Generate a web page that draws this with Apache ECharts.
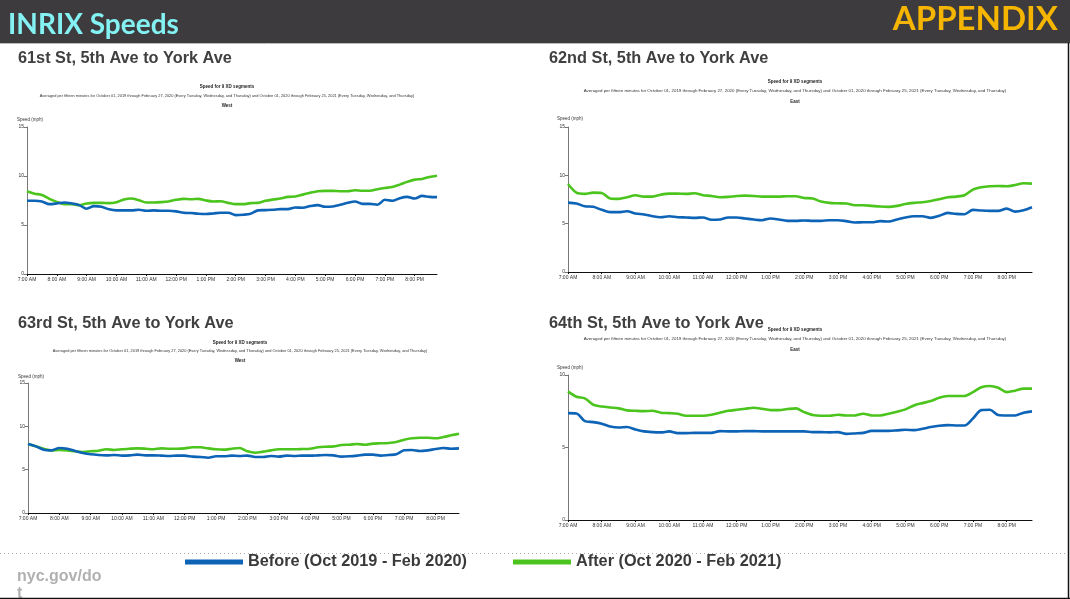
<!DOCTYPE html>
<html><head><meta charset="utf-8">
<script src="https://cdn.jsdelivr.net/npm/echarts@6.0.0/dist/echarts.min.js"></script>
<style>html,body{margin:0;padding:0;background:#fff;overflow:hidden}#c{width:1070px;height:599px}</style>
</head><body><div id="c"></div>
<script>
const times = ['7:00 AM','7:15 AM','7:30 AM','7:45 AM','8:00 AM','8:15 AM','8:30 AM','8:45 AM',
 '9:00 AM','9:15 AM','9:30 AM','9:45 AM','10:00 AM','10:15 AM','10:30 AM','10:45 AM',
 '11:00 AM','11:15 AM','11:30 AM','11:45 AM','12:00 PM','12:15 PM','12:30 PM','12:45 PM',
 '1:00 PM','1:15 PM','1:30 PM','1:45 PM','2:00 PM','2:15 PM','2:30 PM','2:45 PM',
 '3:00 PM','3:15 PM','3:30 PM','3:45 PM','4:00 PM','4:15 PM','4:30 PM','4:45 PM',
 '5:00 PM','5:15 PM','5:30 PM','5:45 PM','6:00 PM','6:15 PM','6:30 PM','6:45 PM',
 '7:00 PM','7:15 PM','7:30 PM','7:45 PM','8:00 PM','8:15 PM','8:30 PM','8:45 PM'];

const panelTitles = ['61st St, 5th Ave to York Ave','62nd St, 5th Ave to York Ave','63rd St, 5th Ave to York Ave','64th St, 5th Ave to York Ave'];
const directions = ['West','East','West','East'];
const yTicksMax = [15,15,15,10];
const seriesNames = ['Before (Oct 2019 - Feb 2020)','After (Oct 2020 - Feb 2021)'];
const chartHeading = 'Speed for 9 XD segments';
const chartSub = 'Averaged per fifteen minutes for October 01, 2019 through February 27, 2020 (Every Tuesday, Wednesday, and Thursday) and October 01, 2020 through February 25, 2021 (Every Tuesday, Wednesday, and Thursday)';

const before61 = [7.47,7.47,7.40,7.13,7.20,7.30,7.20,7.03,6.66,6.93,6.86,6.60,6.49,6.49,6.49,6.55,
 6.45,6.49,6.45,6.45,6.39,6.25,6.22,6.15,6.12,6.18,6.25,6.25,6.01,6.05,6.15,6.49,
 6.52,6.55,6.62,6.62,6.79,6.76,6.93,7.03,6.86,6.89,7.06,7.26,7.40,7.16,7.16,7.06,
 7.57,7.47,7.74,7.87,7.70,7.97,7.87,7.84];
const after61 = [8.45,8.20,8.07,7.67,7.36,7.13,7.13,7.03,7.20,7.26,7.26,7.23,7.33,7.60,7.70,7.53,
 7.30,7.30,7.33,7.40,7.57,7.67,7.63,7.67,7.50,7.40,7.43,7.26,7.13,7.13,7.23,7.26,
 7.47,7.60,7.70,7.87,7.90,8.10,8.28,8.45,8.48,8.48,8.45,8.45,8.55,8.50,8.50,8.65,
 8.78,8.88,9.12,9.40,9.63,9.70,9.90,10.03];

const before62 = [7.18,7.08,6.80,6.74,6.43,6.19,6.19,6.29,6.05,5.95,5.77,5.67,5.77,5.67,5.64,5.60,
 5.64,5.40,5.43,5.64,5.64,5.53,5.43,5.36,5.53,5.43,5.29,5.29,5.33,5.29,5.29,5.36,
 5.36,5.26,5.12,5.15,5.15,5.26,5.22,5.43,5.64,5.77,5.77,5.60,5.81,6.12,6.01,5.98,
 6.43,6.36,6.32,6.32,6.56,6.25,6.39,6.70];
const after62 = [9.10,8.21,8.08,8.21,8.18,7.60,7.56,7.73,7.94,7.80,7.80,8.00,8.11,8.11,8.08,8.14,
 7.94,7.87,7.73,7.77,7.87,7.90,7.87,7.80,7.80,7.80,7.84,7.84,7.66,7.60,7.29,7.15,
 7.11,7.08,6.91,6.91,6.84,6.77,6.74,6.84,7.04,7.15,7.22,7.35,7.53,7.73,7.80,7.94,
 8.52,8.76,8.87,8.90,8.87,9.00,9.18,9.14];

const before63 = [7.96,7.69,7.31,7.23,7.50,7.42,7.15,6.92,6.77,6.69,6.65,6.69,6.62,6.65,6.73,6.65,
 6.65,6.62,6.58,6.62,6.62,6.50,6.46,6.38,6.54,6.54,6.62,6.58,6.62,6.46,6.46,6.58,
 6.50,6.62,6.58,6.62,6.62,6.65,6.69,6.65,6.50,6.54,6.62,6.73,6.73,6.62,6.69,6.77,
 7.23,7.27,7.15,7.23,7.38,7.50,7.42,7.46];
const after63 = [8.00,7.69,7.42,7.23,7.27,7.23,7.12,7.04,7.12,7.19,7.35,7.27,7.35,7.42,7.46,7.42,
 7.35,7.46,7.42,7.42,7.46,7.58,7.58,7.46,7.35,7.31,7.42,7.50,7.12,6.96,7.08,7.23,
 7.35,7.35,7.35,7.38,7.42,7.58,7.65,7.69,7.85,7.88,7.96,7.88,8.00,8.04,8.08,8.19,
 8.46,8.62,8.69,8.69,8.62,8.77,8.96,9.15];

const before64 = [7.37,7.35,6.82,6.75,6.64,6.45,6.38,6.41,6.24,6.11,6.06,6.04,6.11,5.99,5.99,6.01,
 6.01,6.01,6.13,6.11,6.11,6.13,6.13,6.11,6.11,6.11,6.11,6.11,6.11,6.06,6.06,6.04,
 6.06,5.94,5.97,6.01,6.15,6.15,6.15,6.18,6.22,6.20,6.29,6.41,6.50,6.54,6.52,6.52,
 7.00,7.58,7.60,7.24,7.21,7.21,7.40,7.49];
const after64 = [8.87,8.50,8.39,7.95,7.83,7.76,7.70,7.56,7.53,7.51,7.53,7.40,7.37,7.33,7.19,7.19,
 7.19,7.26,7.40,7.53,7.60,7.67,7.74,7.67,7.58,7.58,7.65,7.70,7.44,7.24,7.19,7.19,
 7.26,7.21,7.21,7.33,7.21,7.21,7.33,7.47,7.63,7.90,8.06,8.20,8.43,8.55,8.55,8.55,
 8.82,9.15,9.24,9.12,8.82,8.92,9.06,9.06];

const beforeData = [before61, before62, before63, before64];
const afterData = [after61, after62, after63, after64];

// layout (pixels)
const grids = [
  {left:27, top:127, width:410, height:147},
  {left:568, top:127, width:464, height:145},
  {left:28, top:383, width:431, height:130},
  {left:568, top:375, width:464, height:145}
];
const panelTitlePos = [[18,58.5],[549,58.5],[18,323.5],[549,323.5]];
const headingY = [[227,87,96,106,120,17],[795,82,91,102,119,557],[240,343,351,361,377,18],[795,330,339,350,368,557]];

const BLUE = '#0d63b6', GREEN = '#4cc41e';
const FONT = '"Liberation Sans", Arial, sans-serif';

const xAxis = [], yAxis = [], series = [], graphic = [];
grids.forEach((g, i) => {
  xAxis.push({
    type:'category', gridIndex:i, data:times, boundaryGap:false,
    axisLine:{lineStyle:{color:'#111', width:1}},
    axisTick:{show:true, interval:3, length:2, lineStyle:{color:'#111'}},
    axisLabel:{interval:3, fontSize:5, color:'#333', margin:3, fontFamily:FONT}
  });
  yAxis.push({
    type:'value', gridIndex:i, min:0, max:yTicksMax[i], interval:5,
    splitLine:{show:false},
    axisLine:{show:true, lineStyle:{color:'#777', width:1}},
    axisTick:{show:true, length:3, lineStyle:{color:'#777'}},
    axisLabel:{fontSize:5, color:'#333', margin:3, fontFamily:FONT}
  });
  series.push({
    name:seriesNames[0], type:'line', xAxisIndex:i, yAxisIndex:i, data:beforeData[i],
    showSymbol:false, smooth:0.3, color:BLUE, lineStyle:{width:2.6, color:BLUE}, z:3
  });
  series.push({
    name:seriesNames[1], type:'line', xAxisIndex:i, yAxisIndex:i, data:afterData[i],
    showSymbol:false, smooth:0.3, color:GREEN, lineStyle:{width:2.6, color:GREEN}, z:2
  });
  const h = headingY[i];
  graphic.push({type:'text', x:panelTitlePos[i][0], y:panelTitlePos[i][1],
    style:{text:panelTitles[i], font:'bold 16.3px '+FONT, fill:'#404040', verticalAlign:'middle'}});
  graphic.push({type:'text', x:h[0], y:h[1], style:{text:chartHeading, font:'bold 4.5px '+FONT, fill:'#222', align:'center', verticalAlign:'middle'}});
  graphic.push({type:'text', x:h[0], y:h[2], style:{text:chartSub, font:(i%2? '4.4px ':'3.9px ')+FONT, fill:'#333', align:'center', verticalAlign:'middle'}});
  graphic.push({type:'text', x:h[0], y:h[3], style:{text:directions[i], font:'bold 4.5px '+FONT, fill:'#222', align:'center', verticalAlign:'middle'}});
  graphic.push({type:'text', x:h[5], y:h[4], style:{text:'Speed (mph)', font:'4.5px '+FONT, fill:'#333', verticalAlign:'middle'}});
});

// header & footer
graphic.unshift({type:'rect', shape:{x:0,y:0,width:1070,height:43}, style:{fill:'#3d3b3e'}, z:-1});
graphic.push({type:'line', shape:{x1:0,y1:43.5,x2:1070,y2:43.5}, style:{stroke:'#bbb', lineWidth:1}});
graphic.push({type:'text', x:8, y:25, style:{text:'INRIX Speeds', font:'bold 28px Lato, "Open Sans", sans-serif', fill:'#84f1f3', verticalAlign:'middle'}});
graphic.push({type:'text', x:1058, y:19, style:{text:'APPENDIX', font:'bold 33px Lato, "Open Sans", sans-serif', fill:'#f6b500', align:'right', verticalAlign:'middle'}});
graphic.push({type:'line', shape:{x1:0,y1:553.5,x2:1070,y2:553.5}, style:{stroke:'#aaa', lineWidth:1, lineDash:[1,3]}});
graphic.push({type:'text', x:17, y:577, style:{text:'nyc.gov/do', font:'bold 16px '+FONT, fill:'#b0b0b0', verticalAlign:'middle'}});
graphic.push({type:'text', x:17, y:594, style:{text:'t', font:'bold 16px '+FONT, fill:'#b0b0b0', verticalAlign:'middle'}});
graphic.push({type:'line', shape:{x1:1068.5,y1:43,x2:1068.5,y2:599}, style:{stroke:'#111', lineWidth:1.5}});
graphic.push({type:'line', shape:{x1:0,y1:598.5,x2:1070,y2:598.5}, style:{stroke:'#111', lineWidth:1.5}});

const chart = echarts.init(document.getElementById('c'), null, {renderer:'canvas'});
chart.setOption({
  animation:false,
  backgroundColor:'#fff',
  grid: grids,
  xAxis, yAxis, series, graphic,
  legend:{
    data:seriesNames, left:180, top:549, icon:'rect', itemWidth:58, itemHeight:5, itemGap:46,
    textStyle:{fontSize:16.3, fontWeight:'bold', color:'#3a3a3a', fontFamily:FONT}
  }
});
</script></body></html>
